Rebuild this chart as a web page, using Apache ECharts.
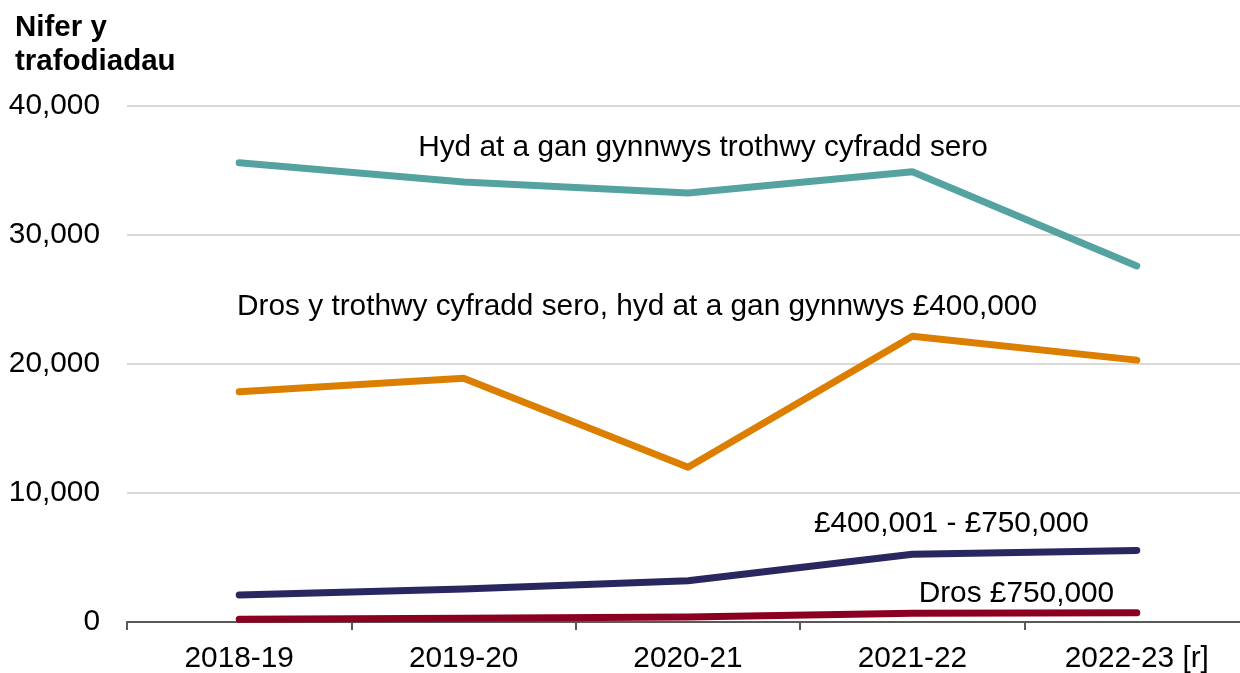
<!DOCTYPE html>
<html>
<head>
<meta charset="utf-8">
<script src="https://cdn.jsdelivr.net/npm/echarts@6/dist/echarts.min.js"></script>
<style>
  html, body { margin: 0; padding: 0; background: #fff; }
  #chart { width: 1240px; height: 673px; }
</style>
</head>
<body>
<div id="chart"></div>
<script>
// blynyddoedd
const years = ['2018-19', '2019-20', '2020-21', '2021-22', '2022-23 [r]']
// nifer y trafodiadau fesul band
const upToZero = [35600, 34100, 33250, 34900, 27600]
const zeroTo400k = [17850, 18900, 12000, 22150, 20300]
const band400to750k = [2100, 2550, 3200, 5250, 5550]
const over750k = [220, 300, 380, 670, 720]
const yTicks = [0, 10000, 20000, 30000, 40000]

const font = 'Liberation Sans, Arial, sans-serif'
const fs = 29.8

// label helper - pinned in data space
function tag(text, cat, val, dx) {
  return {
    symbolSize: 0,
    label: { show: true, position: 'inside', offset: [dx, 0], formatter: text,
      color: '#000', fontSize: fs, fontFamily: font },
    data: [{ coord: [cat, val] }]
  }
}

function line(name, data, color, mark) {
  return {
    name: name,
    type: 'line',
    data: data,
    symbol: 'none',
    lineStyle: { color: color, width: 7, cap: 'round', join: 'round' },
    itemStyle: { color: color },
    markPoint: mark,
    silent: true
  }
}

const chart = echarts.init(document.getElementById('chart'))
chart.setOption({
  animation: false,
  textStyle: { fontFamily: font },
  title: {
    text: 'Nifer y\ntrafodiadau',
    left: 15,
    top: 11,
    padding: 0,
    textStyle: { fontSize: 29.5, fontWeight: 'bold', color: '#000', lineHeight: 34, fontFamily: font }
  },
  grid: { left: 127, top: 106, right: -9, bottom: 51, containLabel: false, outerBoundsMode: 'none' },
  xAxis: {
    type: 'category',
    data: years,
    boundaryGap: true,
    axisLine: { lineStyle: { color: '#595959', width: 2 } },
    axisTick: { show: true, length: 8, lineStyle: { color: '#595959', width: 2 } },
    axisLabel: { color: '#000', fontSize: fs, margin: 22, fontFamily: font }
  },
  yAxis: {
    type: 'value',
    min: yTicks[0],
    max: yTicks[yTicks.length - 1],
    interval: 10000,
    axisLine: { show: false },
    axisTick: { show: false },
    splitLine: { lineStyle: { color: '#d9d9d9', width: 2 } },
    axisLabel: {
      color: '#000', fontSize: fs, margin: 27, fontFamily: font,
      formatter: v => v.toLocaleString('en-GB')
    }
  },
  series: [
    line('Hyd at a gan gynnwys trothwy cyfradd sero', upToZero, '#55a3a1',
      tag('Hyd at a gan gynnwys trothwy cyfradd sero', '2020-21', 36750, 15)),
    line('Dros y trothwy cyfradd sero, hyd at a gan gynnwys £400,000', zeroTo400k, '#dc7f00',
      tag('Dros y trothwy cyfradd sero, hyd at a gan gynnwys £400,000', '2020-21', 24400, -51)),
    line('£400,001 - £750,000', band400to750k, '#29275f',
      tag('£400,001 - £750,000', '2021-22', 7600, 39)),
    line('Dros £750,000', over750k, '#8b0021',
      tag('Dros £750,000', '2021-22', 2150, 104))
  ]
})
</script>
</body>
</html>
